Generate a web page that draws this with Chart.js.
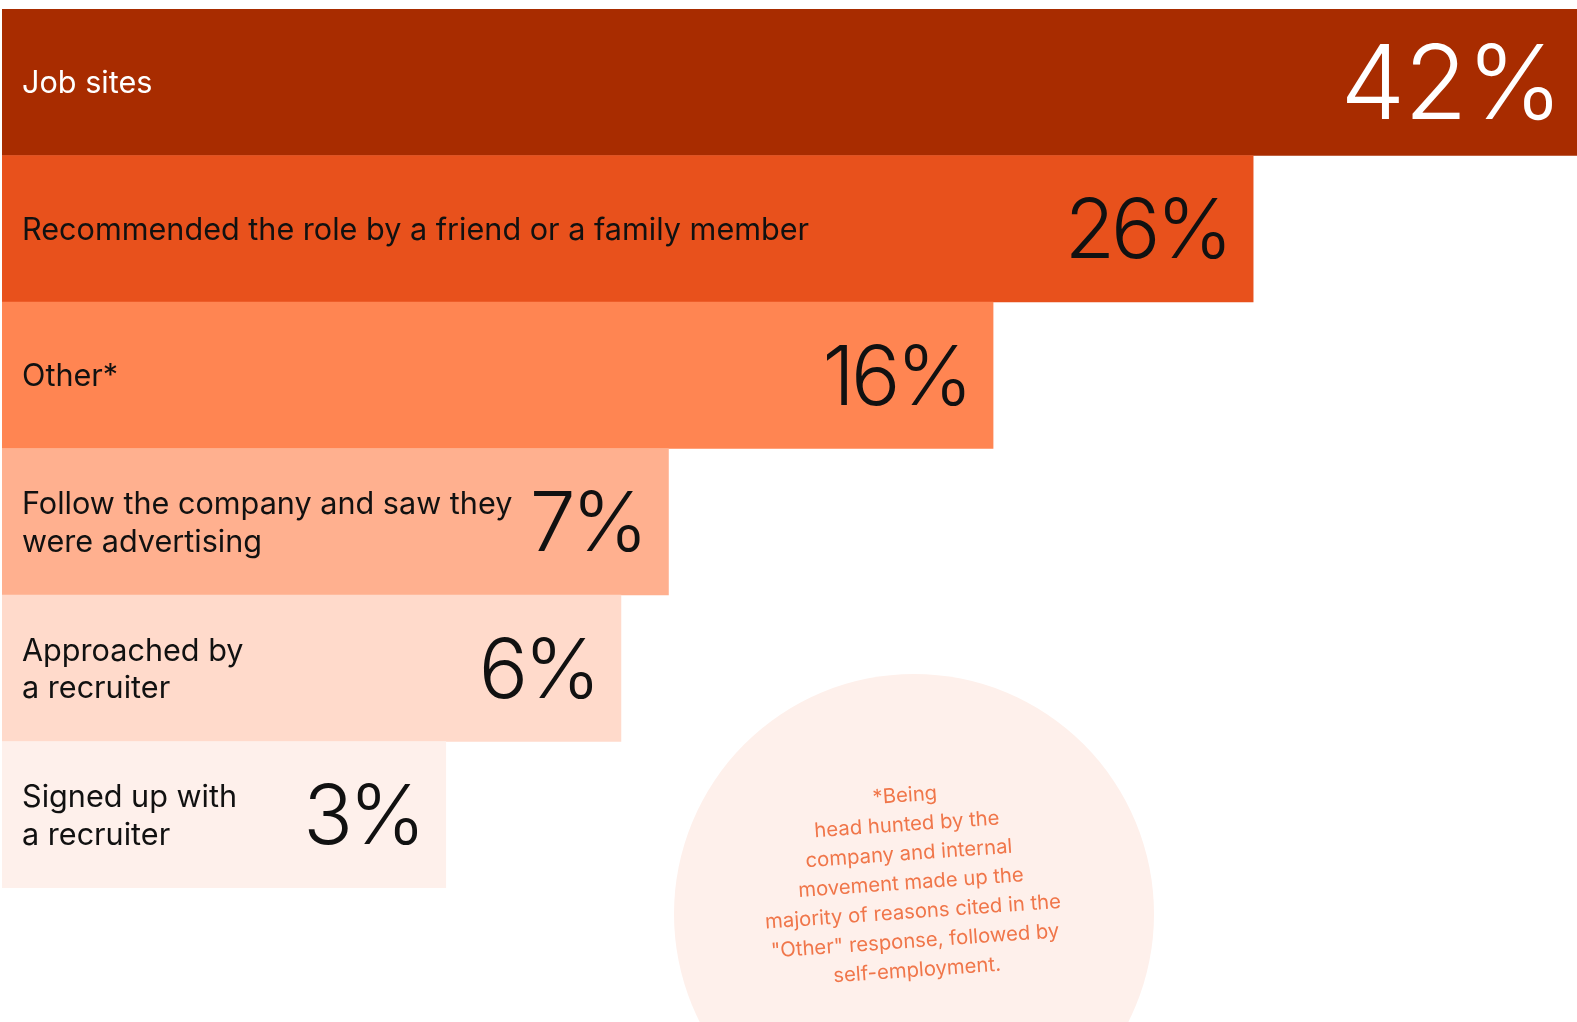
<!DOCTYPE html>
<html>
<head>
<meta charset="utf-8">
<title>How candidates found the role</title>
<script src="https://cdn.jsdelivr.net/npm/chart.js@4.4.1/dist/chart.umd.min.js"></script>
<style>
  html, body { margin: 0; padding: 0; background: #fff; }
  #wrap { width: 1577px; height: 1022px; }
</style>
</head>
<body>
<div id="wrap"><canvas id="chart" width="1577" height="1022"></canvas></div>
<script>
const categories = [
    ['Job sites'],
    ['Recommended the role by a friend or a family member'],
    ['Other*'],
    ['Follow the company and saw they', 'were advertising'],
    ['Approached by', 'a recruiter'],
    ['Signed up with', 'a recruiter']
];
const shares = [42, 26, 16, 7, 6, 3];
const barColors = ['#A82C00', '#E8511C', '#FF8552', '#FFB08F', '#FFDACB', '#FEF0EB'];
const noteLines = [
    '*Being',
    'head hunted by the',
    'company and internal',
    'movement made up the',
    'majority of reasons cited in the',
    '"Other" response, followed by',
    'self-employment.'
];

// power value axis (close to square root), keeps the small shares wide enough for their labels
class PowerScale extends Chart.LinearScale {
    _pow(v) {
        return Math.pow(Math.max(v, 0), this.options.exponent || 0.5);
    }
    getPixelForValue(value) {
        if (value === null || isNaN(value)) return NaN;
        let lo = this._pow(this.min);
        let hi = this._pow(this.max);
        return this.getPixelForDecimal((this._pow(value) - lo) / (hi - lo));
    }
    getValueForPixel(pixel) {
        let lo = this._pow(this.min);
        let hi = this._pow(this.max);
        let s = lo + this.getDecimalForPixel(pixel) * (hi - lo);
        return Math.pow(s, 1 / (this.options.exponent || 0.5));
    }
}
PowerScale.id = 'power';
PowerScale.defaults = Chart.LinearScale.defaults;
Chart.register(PowerScale);

// category name on the left of each bar, percentage at its right end
const barLabels = {
    id: 'barLabels',
    afterDatasetsDraw(chart) {
        let ctx = chart.ctx;
        let meta = chart.getDatasetMeta(0);
        let left = chart.chartArea.left;
        ctx.save();
        meta.data.forEach(function (bar, i) {
            ctx.fillStyle = i === 0 ? '#ffffff' : '#111111';

            // category text
            ctx.font = '30.6px Inter';
            ctx.letterSpacing = '0px';
            ctx.textAlign = 'left';
            ctx.textBaseline = 'middle';
            let lines = categories[i];
            let lh = 37.5;
            let y0 = bar.y + 2 - lh * (lines.length - 1) / 2;
            lines.forEach(function (t, k) {
                ctx.fillText(t, left + 20, y0 + k * lh);
            });

            // percentage
            let size = i === 0 ? 103 : 82;
            let pad = i === 0 ? 15 : 24;
            ctx.font = '300 ' + size + 'px Inter';
            ctx.letterSpacing = i === 0 ? '-1px' : '-4px';
            ctx.textAlign = 'right';
            ctx.textBaseline = 'alphabetic';
            ctx.fillText(shares[i] + '%', bar.x - pad, bar.y + size * 0.36);
        });
        ctx.restore();
    }
};

// footnote bubble below the short bars
const noteBubble = {
    id: 'noteBubble',
    beforeDatasetsDraw(chart) {
        let ctx = chart.ctx;
        ctx.save();
        ctx.fillStyle = '#FEF0EB';
        ctx.beginPath();
        ctx.arc(914, 914, 240, 0, Math.PI * 2);
        ctx.fill();

        ctx.translate(911, 883);
        ctx.rotate(-4 * Math.PI / 180);
        ctx.fillStyle = '#F0764A';
        ctx.font = '20.3px Inter';
        ctx.textAlign = 'center';
        ctx.textBaseline = 'middle';
        let step = 29.2;
        let top = -step * (noteLines.length - 1) / 2;
        noteLines.forEach(function (line, i) {
            ctx.fillText(line, 0, top + i * step);
        });
        ctx.restore();
    }
};

let ctx = document.getElementById('chart').getContext('2d');
let myChart = new Chart(ctx, {
    type: 'bar',
    data: {
        labels: categories.map(function (c) { return c.join(' '); }),
        datasets: [{
            data: shares,
            backgroundColor: barColors,
            borderWidth: 0,
            barPercentage: 1,
            categoryPercentage: 1
        }]
    },
    options: {
        indexAxis: 'y',
        responsive: false,
        animation: false,
        events: [],
        layout: {
            padding: {left: 2, top: 9, right: 0, bottom: 134}
        },
        plugins: {
            legend: {display: false},
            tooltip: {enabled: false}
        },
        scales: {
            x: {
                type: 'power',
                exponent: 0.48,
                min: 0,
                max: 42,
                display: false
            },
            y: {
                display: false,
                offset: true
            }
        }
    },
    plugins: [noteBubble, barLabels]
});
</script>
</body>
</html>
